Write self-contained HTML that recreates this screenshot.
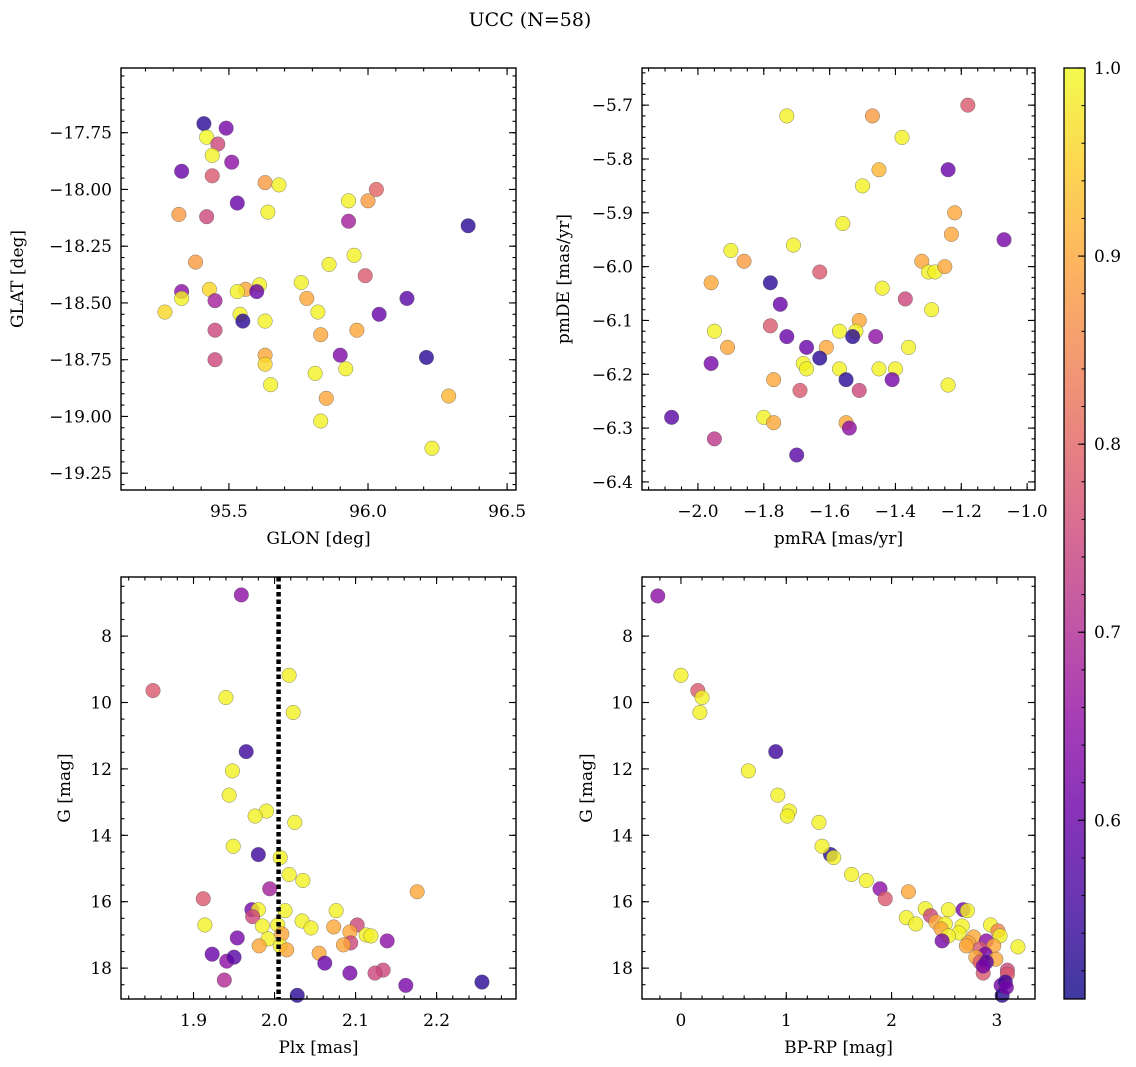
<!DOCTYPE html>
<html><head><meta charset="utf-8">
<style>
html,body{margin:0;padding:0;background:#fff;}
svg{display:block;font-family:"DejaVu Serif","Liberation Serif",serif;}
</style></head>
<body>
<svg id="fig" width="1136" height="1067" viewBox="0 0 1136 1067" xmlns="http://www.w3.org/2000/svg">
<defs>
<linearGradient id="plasmaGrad" x1="0" y1="1" x2="0" y2="0">
<stop offset="0" stop-color="#0d0887"/><stop offset="0.1" stop-color="#41049d"/>
<stop offset="0.2" stop-color="#6a00a8"/><stop offset="0.3" stop-color="#8f0da4"/>
<stop offset="0.4" stop-color="#b12a90"/><stop offset="0.5" stop-color="#cc4778"/>
<stop offset="0.6" stop-color="#e16462"/><stop offset="0.7" stop-color="#f2844b"/>
<stop offset="0.8" stop-color="#fca636"/><stop offset="0.9" stop-color="#fcce25"/>
<stop offset="1" stop-color="#f0f921"/>
</linearGradient>
</defs>
<text x="530" y="26" font-size="19" text-anchor="middle">UCC (N=58)</text>
</svg>
<script>
// Panel 1: GLON vs GLAT
const p1Glon = [95.41,95.49,95.42,95.46,95.44,95.51,95.33,95.44,95.63,95.68,96.03,95.53,95.64,96.00,95.93,95.32,95.42,96.36,95.93,95.95,95.38,95.86,95.99,95.76,95.61,95.56,95.53,95.43,95.33,95.60,95.27,95.78,96.14,95.33,95.45,95.82,95.54,95.55,96.04,95.63,95.45,95.96,95.83,96.21,95.63,95.45,95.90,95.63,95.92,95.81,95.65,95.85,96.29,95.83,96.23];
const p1Glat = [-17.71,-17.73,-17.77,-17.80,-17.85,-17.88,-17.92,-17.94,-17.97,-17.98,-18.00,-18.06,-18.10,-18.05,-18.05,-18.11,-18.12,-18.16,-18.14,-18.29,-18.32,-18.33,-18.38,-18.41,-18.42,-18.44,-18.45,-18.44,-18.45,-18.45,-18.54,-18.48,-18.48,-18.48,-18.49,-18.54,-18.55,-18.58,-18.55,-18.58,-18.62,-18.62,-18.64,-18.74,-18.73,-18.75,-18.73,-18.77,-18.79,-18.81,-18.86,-18.92,-18.91,-19.02,-19.14];
const p1Prob = [0.53,0.62,1.0,0.75,0.99,0.65,0.6,0.78,0.88,0.99,0.8,0.6,0.99,0.88,0.99,0.88,0.75,0.53,0.68,0.99,0.88,0.99,0.78,0.99,0.99,0.9,0.99,0.96,0.65,0.6,0.96,0.9,0.58,0.99,0.68,0.99,0.99,0.53,0.6,0.99,0.75,0.9,0.9,0.53,0.9,0.75,0.63,0.96,0.99,0.99,0.99,0.9,0.92,0.99,0.99];
// Panel 2: pmRA vs pmDE
const p2PmRA = [-1.18,-1.47,-1.73,-1.38,-1.45,-1.24,-1.50,-1.22,-1.56,-1.07,-1.71,-1.23,-1.90,-1.86,-1.32,-1.30,-1.28,-1.25,-1.78,-1.63,-1.96,-1.44,-1.75,-1.37,-1.29,-1.51,-1.78,-1.95,-1.73,-1.57,-1.52,-1.46,-1.53,-1.91,-1.61,-1.36,-1.67,-1.63,-1.68,-1.67,-1.96,-1.57,-1.45,-1.40,-1.41,-1.55,-1.77,-1.69,-1.24,-1.51,-1.80,-1.55,-2.08,-1.54,-1.77,-1.95,-1.70];
const p2PmDE = [-5.70,-5.72,-5.72,-5.76,-5.82,-5.82,-5.85,-5.90,-5.92,-5.95,-5.96,-5.94,-5.97,-5.99,-5.99,-6.01,-6.01,-6.00,-6.03,-6.01,-6.03,-6.04,-6.07,-6.06,-6.08,-6.10,-6.11,-6.12,-6.13,-6.12,-6.12,-6.13,-6.13,-6.15,-6.15,-6.15,-6.15,-6.17,-6.18,-6.19,-6.18,-6.19,-6.19,-6.19,-6.21,-6.21,-6.21,-6.23,-6.22,-6.23,-6.28,-6.29,-6.28,-6.30,-6.29,-6.32,-6.35];
const p2Prob = [0.78,0.88,0.99,0.99,0.92,0.6,0.99,0.9,0.99,0.62,0.99,0.9,0.99,0.88,0.9,0.99,0.99,0.9,0.53,0.78,0.9,0.99,0.6,0.75,0.99,0.9,0.78,0.99,0.6,0.99,0.99,0.65,0.53,0.9,0.9,0.99,0.6,0.53,0.99,0.99,0.62,0.99,0.99,0.99,0.62,0.53,0.9,0.78,0.99,0.75,0.99,0.9,0.58,0.65,0.9,0.72,0.58];
// Panel 3: Plx vs G
const p3Plx = [1.959,1.850,1.940,2.018,2.023,1.965,1.948,1.944,1.990,1.976,2.025,1.980,1.949,2.007,2.018,2.035,1.994,1.912,2.176,2.076,1.972,1.980,2.013,1.973,1.914,2.034,2.045,2.004,1.985,2.102,2.073,2.093,2.113,2.119,2.009,1.954,1.992,2.139,2.094,2.007,2.015,1.981,2.085,1.923,2.055,1.941,1.950,2.062,2.134,2.124,2.093,1.938,2.162,2.256,2.028];
const p3G = [6.76,9.64,9.85,9.18,10.30,11.48,12.06,12.79,13.27,13.42,13.61,14.58,14.33,14.67,15.18,15.36,15.61,15.91,15.70,16.27,16.24,16.24,16.27,16.45,16.70,16.58,16.79,16.70,16.73,16.70,16.76,16.91,17.00,17.03,16.97,17.09,17.12,17.18,17.24,17.33,17.45,17.33,17.30,17.58,17.55,17.79,17.67,17.85,18.06,18.15,18.15,18.36,18.52,18.42,18.82];
const p3Prob = [0.65,0.78,0.99,0.99,0.99,0.55,0.99,0.99,0.99,0.99,0.99,0.55,0.99,0.99,0.99,0.99,0.68,0.78,0.9,0.99,0.62,0.99,0.99,0.75,0.99,0.99,0.99,0.99,0.99,0.75,0.9,0.9,0.99,0.99,0.9,0.62,0.99,0.65,0.75,0.99,0.9,0.9,0.9,0.6,0.9,0.65,0.58,0.6,0.75,0.75,0.62,0.7,0.62,0.53,0.53];
const plxMean = [2.005];
// Panel 4: BP-RP vs G
const p4BpRp = [-0.22,0.0,0.16,0.20,0.18,0.90,0.64,0.92,1.03,1.01,1.31,1.42,1.34,1.45,1.62,1.76,1.89,1.94,2.16,2.32,2.14,2.23,2.37,2.54,2.68,2.72,2.42,2.51,2.67,2.94,3.01,2.47,2.64,2.54,3.03,2.78,2.48,2.73,2.90,3.20,2.97,2.84,2.71,2.89,2.80,2.99,2.84,2.90,3.10,3.10,2.87,2.87,3.04,3.08,3.05,3.09];
const p4G = [6.79,9.18,9.64,9.85,10.30,11.48,12.06,12.79,13.27,13.42,13.61,14.58,14.33,14.67,15.18,15.36,15.61,15.91,15.70,16.21,16.48,16.67,16.42,16.24,16.24,16.27,16.61,16.67,16.73,16.70,16.88,16.82,16.94,17.03,17.03,17.06,17.18,17.24,17.18,17.36,17.33,17.42,17.33,17.58,17.67,17.73,17.82,17.82,18.06,18.18,18.15,17.94,18.52,18.42,18.82,18.58];
const p4Prob = [0.65,0.99,0.78,0.99,0.99,0.55,0.99,0.99,0.99,0.99,0.99,0.53,0.99,0.99,0.99,0.99,0.65,0.78,0.9,0.99,0.99,0.99,0.75,0.99,0.62,0.99,0.9,0.99,0.99,0.99,0.85,0.9,0.99,0.99,0.99,0.9,0.62,0.9,0.65,0.99,0.9,0.78,0.9,0.62,0.9,0.9,0.78,0.58,0.75,0.78,0.78,0.62,0.62,0.55,0.53,0.62];
// Tick labels
const p1XTicks = [95.5,96.0,96.5];
const p1YTicks = [-17.75,-18.00,-18.25,-18.50,-18.75,-19.00,-19.25];
const p2XTicks = [-2.0,-1.8,-1.6,-1.4,-1.2,-1.0];
const p2YTicks = [-5.7,-5.8,-5.9,-6.0,-6.1,-6.2,-6.3,-6.4];
const p3XTicks = [1.9,2.0,2.1,2.2];
const gTicks = [8,10,12,14,16,18];
const p4XTicks = [0,1,2,3];
const cbTicks = [0.6,0.7,0.8,0.9,1.0];
const cbRange = [0.505,1.0];

const NS = "http://www.w3.org/2000/svg";
const svg = document.getElementById('fig');
const FS = 17;
const stops = ["#0d0887","#41049d","#6a00a8","#8f0da4","#b12a90","#cc4778","#e16462","#f2844b","#fca636","#fcce25","#f0f921"];
function hex(h){return [1,3,5].map(i=>parseInt(h.substr(i,2),16));}
function plasma(t){t=Math.max(0,Math.min(1,t));const f=t*10;const i=Math.min(9,Math.floor(f));const u=f-i;const a=hex(stops[i]),b=hex(stops[i+1]);
return 'rgb('+a.map((v,k)=>Math.round(v+(b[k]-v)*u)).join(',')+')';}
function mk(tag,attrs,parent){const e=document.createElementNS(NS,tag);for(const k in attrs)e.setAttribute(k,attrs[k]);(parent||svg).appendChild(e);return e;}
function fmt(v,d){return (v<0?'\u2212':'')+Math.abs(v).toFixed(d);}

function panel(cfg){
  const g=mk('g',{});
  
  
  const [L,T,R,B]=cfg.box;
  const sx=v=>L+(v-cfg.xlim[0])/(cfg.xlim[1]-cfg.xlim[0])*(R-L);
  const sy=v=>cfg.yinv? T+(v-cfg.ylim[0])/(cfg.ylim[1]-cfg.ylim[0])*(B-T) : B-(v-cfg.ylim[0])/(cfg.ylim[1]-cfg.ylim[0])*(B-T);
  const pg=mk('g',{},g);
  
  
  for(let i=0;i<cfg.xs.length;i++){
    const c=mk('circle',{cx:sx(cfg.xs[i]),cy:sy(cfg.ys[i]),r:7.3,fill:plasma((cfg.c[i]-cbRange[0])/(cbRange[1]-cbRange[0])),'fill-opacity':0.8,stroke:'#555','stroke-width':0.5,'stroke-opacity':0.7},pg);
    
    
  }
  if(cfg.vline){const x=sx(cfg.vline);const l=mk('line',{x1:x,x2:x,y1:T,y2:B,stroke:'#000','stroke-width':4.5,'stroke-dasharray':'4.5,3'},g);
    
    }
  const tk=mk('g',{stroke:'#000','stroke-width':1.1},g);
  const minorX=[],minorY=[];
  for(let v=Math.ceil(cfg.xlim[0]/cfg.xminor-1e-6)*cfg.xminor;v<=cfg.xlim[1];v+=cfg.xminor)minorX.push(v);
  for(let v=Math.ceil(cfg.ylim[0]/cfg.yminor-1e-6)*cfg.yminor;v<=cfg.ylim[1];v+=cfg.yminor)minorY.push(v);
  minorX.forEach(v=>{const x=sx(v);mk('line',{x1:x,x2:x,y1:B,y2:B-3.5},tk);mk('line',{x1:x,x2:x,y1:T,y2:T+3.5},tk);});
  minorY.forEach(v=>{const y=sy(v);mk('line',{x1:L,x2:L+3.5,y1:y,y2:y},tk);mk('line',{x1:R,x2:R-3.5,y1:y,y2:y},tk);});
  cfg.xt.forEach(v=>{const x=sx(v);mk('line',{x1:x,x2:x,y1:B,y2:B-7},tk);mk('line',{x1:x,x2:x,y1:T,y2:T+7},tk);
    const t=mk('text',{x:x,y:B+27,'font-size':FS,'text-anchor':'middle'},g);t.textContent=fmt(v,cfg.xd);
    
    });
  cfg.yt.forEach(v=>{const y=sy(v);mk('line',{x1:L,x2:L+7,y1:y,y2:y},tk);mk('line',{x1:R,x2:R-7,y1:y,y2:y},tk);
    const t=mk('text',{x:L-9,y:y+6,'font-size':FS,'text-anchor':'end'},g);t.textContent=fmt(v,cfg.yd);
    
    });
  const fr=mk('rect',{x:L,y:T,width:R-L,height:B-T,fill:'none',stroke:'#000','stroke-width':1.4},g);
  
  
  const xl=mk('text',{x:(L+R)/2,y:B+54,'font-size':FS,'text-anchor':'middle'},g);xl.textContent=cfg.xlabel;
  
  
  const ylx=cfg.ylx, yc=(T+B)/2;
  const yl=mk('text',{x:ylx,y:yc,'font-size':FS,'text-anchor':'middle',transform:'rotate(-90 '+ylx+' '+yc+')'},g);yl.textContent=cfg.ylabel;
  
  
}
panel({name:'panel-glon-glat',box:[121,68,516,490],xlim:[95.112,96.532],ylim:[-19.324,-17.465],xs:p1Glon,ys:p1Glat,c:p1Prob,xt:p1XTicks,yt:p1YTicks,xd:1,yd:2,xminor:0.1,yminor:0.05,xlabel:'GLON [deg]',ylabel:'GLAT [deg]',ylx:23});
panel({name:'panel-pmra-pmde',box:[642,68,1035,490],xlim:[-2.170,-0.976],ylim:[-6.415,-5.631],xs:p2PmRA,ys:p2PmDE,c:p2Prob,xt:p2XTicks,yt:p2YTicks,xd:1,yd:1,xminor:0.05,yminor:0.02,xlabel:'pmRA [mas/yr]',ylabel:'pmDE [mas/yr]',ylx:569});
panel({name:'panel-plx-g',box:[121,577,516,999],xlim:[1.8105,2.298],ylim:[6.22,18.93],yinv:true,xs:p3Plx,ys:p3G,c:p3Prob,xt:p3XTicks,yt:gTicks,xd:1,yd:0,xminor:0.02,yminor:0.5,xlabel:'Plx [mas]',ylabel:'G [mag]',ylx:70,vline:plxMean[0]});
panel({name:'panel-color-magnitude',box:[642,577,1035,999],xlim:[-0.370,3.362],ylim:[6.22,18.93],yinv:true,xs:p4BpRp,ys:p4G,c:p4Prob,xt:p4XTicks,yt:gTicks,xd:0,yd:0,xminor:0.2,yminor:0.5,xlabel:'BP-RP [mag]',ylabel:'G [mag]',ylx:592});

(function(){
  const L=1064,R=1085,T=68,B=999;
  const g=mk('g',{});
  
  
  mk('rect',{x:L,y:T,width:R-L,height:B-T,fill:'url(#plasmaGrad)','fill-opacity':0.8},g);
  mk('rect',{x:L,y:T,width:R-L,height:B-T,fill:'none',stroke:'#000','stroke-width':1.3},g);
  const sy=v=>B-(v-cbRange[0])/(cbRange[1]-cbRange[0])*(B-T);
  for(let v=0.52;v<1.0;v+=0.02){const y=sy(v);mk('line',{x1:R,x2:R-3.5,y1:y,y2:y,stroke:'#000','stroke-width':1},g);}
  cbTicks.forEach(v=>{const y=sy(v);mk('line',{x1:R,x2:R-7,y1:y,y2:y,stroke:'#000','stroke-width':1.1},g);
    const t=mk('text',{x:R+9,y:y+6,'font-size':FS},g);t.textContent=v.toFixed(1);
    
    });
})();
</script>
</body></html>
